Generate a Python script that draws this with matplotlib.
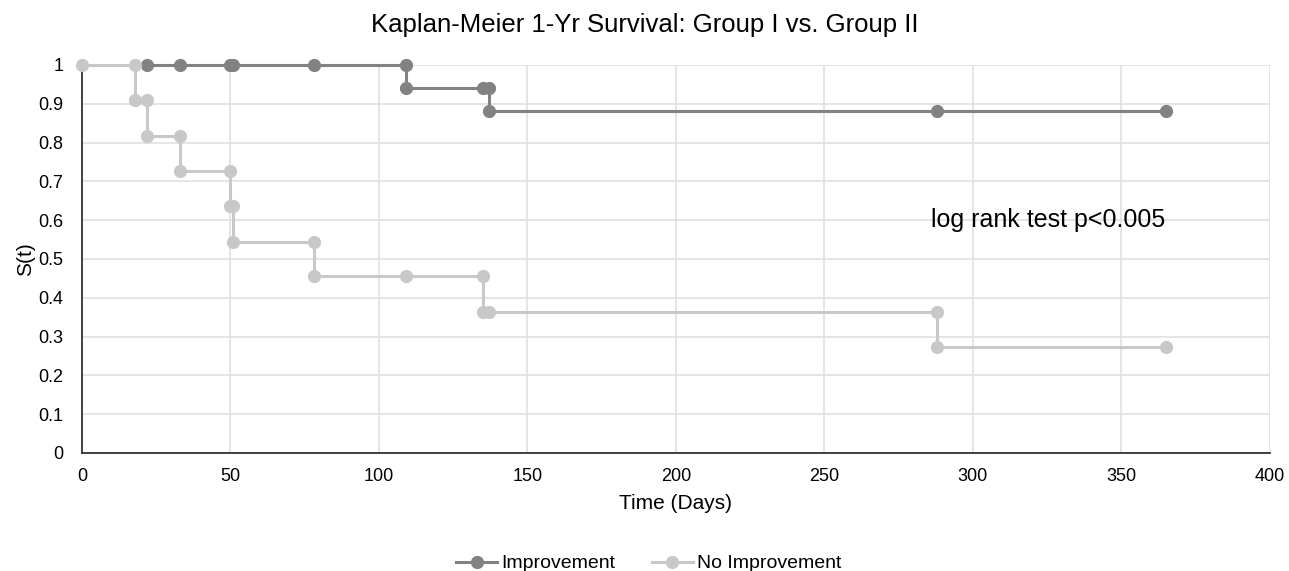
import matplotlib.pyplot as plt

plt.rcParams['font.family'] = ['Liberation Sans', 'DejaVu Sans']

# Kaplan-Meier step points (time in days, survival)
improve_t = [22, 33, 50, 51, 78, 109, 109, 135, 137, 137, 288, 365]
improve_s = [1, 1, 1, 1, 1, 1, 0.941, 0.941, 0.941, 0.882, 0.882, 0.882]

noimprove_t = [0, 18, 18, 22, 22, 33, 33, 50, 50, 51, 51, 78, 78, 109, 135, 135, 137, 288, 288, 365]
noimprove_s = [1, 1, 0.909, 0.909, 0.818, 0.818, 0.727, 0.727, 0.636, 0.636, 0.545, 0.545,
               0.455, 0.455, 0.455, 0.364, 0.364, 0.364, 0.273, 0.273]

dark = '#828282'
light = '#c8c8c8'

fig = plt.figure(figsize=(12.89, 5.71), dpi=100)
ax = fig.add_axes([0.0636, 0.2067, 0.9214, 0.6795])

ax.plot(improve_t, improve_s, color=dark, lw=2.2, marker='o', ms=8.5,
        clip_on=False, zorder=3, label='Improvement')
ax.plot(noimprove_t, noimprove_s, color=light, lw=2.2, marker='o', ms=8.5,
        clip_on=False, zorder=3, label='No Improvement')

ax.set_xlim(0, 400)
ax.set_ylim(0, 1)
ax.set_xticks(range(0, 401, 50))
ax.set_yticks([i / 10 for i in range(11)])
ax.set_yticklabels(['0', '0.1', '0.2', '0.3', '0.4', '0.5', '0.6', '0.7', '0.8', '0.9', '1'])
ax.grid(True, color='#e0e0e0', lw=1.2)
ax.set_axisbelow(True)
for s in ['top', 'right']:
    ax.spines[s].set_visible(False)
ax.spines['left'].set_color('#333333')
ax.spines['bottom'].set_color('#333333')
ax.spines['left'].set_linewidth(1.3)
ax.spines['bottom'].set_linewidth(1.3)
ax.tick_params(axis='y', length=0, labelsize=13, pad=13.5)
ax.tick_params(axis='x', length=0, labelsize=13, pad=11)

ax.set_xlabel('Time (Days)', fontsize=15, labelpad=6)
ax.set_ylabel('S(t)', fontsize=15, labelpad=2)
fig.text(0.5, 1 - 25 / 571, 'Kaplan-Meier 1-Yr Survival: Group I vs. Group II',
         fontsize=18.5, ha='center', va='center')

ax.text(365, 0.6, 'log rank test p<0.005', fontsize=18, ha='right', va='center')

ax.legend(loc='center', bbox_to_anchor=(0.477, -0.285), ncol=2, frameon=False,
          fontsize=14, handlelength=2.1, columnspacing=1.9, handletextpad=0.2,
          borderaxespad=0)

fig.savefig('out.png', dpi=100)
